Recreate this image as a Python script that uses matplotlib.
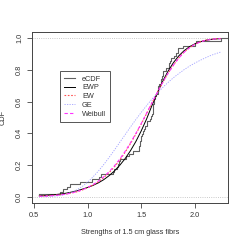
import numpy as np
import matplotlib
matplotlib.use("Agg")
import matplotlib.pyplot as plt

plt.rc('font', family=['Liberation Sans', 'DejaVu Sans'], size=5.3)

# strengths of 1.5 cm glass fibres (63 obs)
fibre = [0.55, 0.74, 0.77, 0.81, 0.84, 0.93, 1.04, 1.11, 1.13, 1.24, 1.25,
         1.27, 1.28, 1.29, 1.30, 1.36, 1.39, 1.42, 1.48, 1.48, 1.49, 1.49,
         1.50, 1.50, 1.51, 1.52, 1.53, 1.54, 1.55, 1.55, 1.58, 1.59, 1.60,
         1.61, 1.61, 1.61, 1.61, 1.62, 1.62, 1.63, 1.64, 1.66, 1.66, 1.66,
         1.67, 1.68, 1.68, 1.69, 1.70, 1.70, 1.73, 1.76, 1.76, 1.77, 1.78,
         1.81, 1.82, 1.84, 1.84, 1.89, 2.00, 2.01, 2.24]

# fitted cdf curves
grid = [0.55, 0.60, 0.65, 0.70, 0.75, 0.80, 0.85, 0.90, 0.95, 1.00, 1.05,
        1.10, 1.15, 1.20, 1.25, 1.30, 1.35, 1.40, 1.45, 1.50, 1.55, 1.60,
        1.65, 1.70, 1.75, 1.80, 1.85, 1.90, 1.95, 2.00, 2.05, 2.10, 2.15,
        2.20, 2.24]
ewp = [0.005, 0.007, 0.010, 0.013, 0.017, 0.022, 0.029, 0.037, 0.047, 0.058,
       0.071, 0.087, 0.107, 0.132, 0.162, 0.198, 0.240, 0.290, 0.348, 0.415,
       0.490, 0.575, 0.655, 0.728, 0.792, 0.846, 0.889, 0.922, 0.947, 0.965,
       0.978, 0.987, 0.993, 0.996, 0.998]
ew = [0.004, 0.005, 0.007, 0.009, 0.012, 0.017, 0.023, 0.031, 0.042, 0.056,
      0.073, 0.094, 0.120, 0.151, 0.188, 0.231, 0.280, 0.335, 0.395, 0.458,
      0.524, 0.591, 0.657, 0.720, 0.779, 0.831, 0.876, 0.913, 0.941, 0.963,
      0.978, 0.988, 0.994, 0.997, 0.999]
ge = [0.000, 0.001, 0.002, 0.004, 0.008, 0.016, 0.027, 0.043, 0.064, 0.091,
      0.124, 0.161, 0.202, 0.247, 0.294, 0.343, 0.391, 0.440, 0.487, 0.532,
      0.575, 0.616, 0.653, 0.689, 0.721, 0.751, 0.777, 0.802, 0.824, 0.844,
      0.861, 0.877, 0.892, 0.904, 0.913]
weib = [0.002, 0.003, 0.005, 0.008, 0.011, 0.016, 0.023, 0.032, 0.043, 0.058,
        0.076, 0.098, 0.125, 0.157, 0.194, 0.237, 0.286, 0.340, 0.399, 0.461,
        0.527, 0.593, 0.658, 0.721, 0.779, 0.830, 0.875, 0.912, 0.940, 0.962,
        0.977, 0.987, 0.993, 0.997, 0.998]

fig = plt.figure(figsize=(2.44, 2.44), dpi=100)
ax = fig.add_axes([0.131, 0.168, 0.803, 0.701])

xs, cnt = np.unique(fibre, return_counts=True)
ys = np.cumsum(cnt) / len(fibre)
xs = np.append(xs, 2.30)
ys = np.append(ys, 1.0)

ax.axhline(0, color='#b8b8b8', linestyle=':', linewidth=0.6)
ax.axhline(1, color='#b8b8b8', linestyle=':', linewidth=0.6)

ax.step(xs, ys, where='post', color='#606060', linewidth=0.8, label='eCDF')
ax.plot(grid, ewp, color='black', linewidth=0.7, label='EWP')
ax.plot(grid, ew, color='#ff5050', linestyle=(0, (1.5, 1.5)), linewidth=0.8, label='EW')
ax.plot(grid, ge, color='#a0a0ff', linestyle=(0, (1.5, 1.5)), linewidth=0.6, label='GE')
ax.plot(grid, weib, color='#ff30ff', linestyle=(0, (3, 2)), linewidth=0.8, label='Weibull')

ax.set_xlim(0.482, 2.308)
ax.set_ylim(-0.04, 1.04)
ax.set_xticks([0.5, 1.0, 1.5, 2.0])
ax.set_yticks([0.0, 0.2, 0.4, 0.6, 0.8, 1.0])
ax.tick_params(length=3.5, width=0.6, color='#444444', labelcolor='#333333', pad=3)
for lab in ax.get_yticklabels():
    lab.set_rotation(90)
    lab.set_va('center')
for s in ax.spines.values():
    s.set_linewidth(0.7)
    s.set_color('#444444')

ax.set_xlabel('Strengths of 1.5 cm glass fibrs', color='#333333', labelpad=7)
ax.set_ylabel('CDF', color='#333333', labelpad=7)

leg = ax.legend(loc='upper left', bbox_to_anchor=(0.143, 0.772), fancybox=False,
                edgecolor='#555555', framealpha=1, handlelength=1.4,
                handletextpad=1.0, labelspacing=0.22, borderpad=0.6,
                borderaxespad=0)
leg.get_frame().set_linewidth(0.7)
for t in leg.get_texts():
    t.set_color('#333333')

plt.savefig('out.png', dpi=100)
